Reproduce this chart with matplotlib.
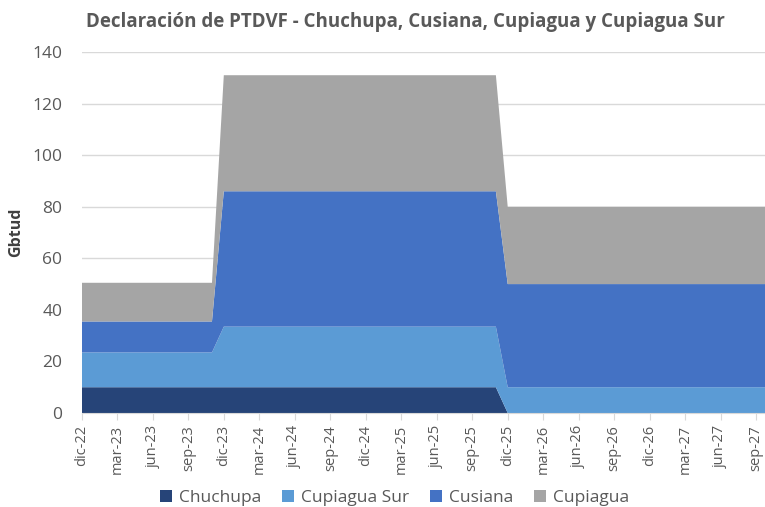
import matplotlib
matplotlib.use('Agg')
import matplotlib.pyplot as plt
from matplotlib.patches import Patch
import numpy as np

plt.rcParams['font.family'] = ['Liberation Sans Narrow', 'Open Sans', 'DejaVu Sans']

# monthly labels from dic-22 to oct-27
meses = ['ene', 'feb', 'mar', 'abr', 'may', 'jun', 'jul', 'ago', 'sep', 'oct', 'nov', 'dic']
labels = []
for k in range(59):
    m = (11 + k) % 12
    a = 22 + (11 + k) // 12
    labels.append('%s-%02d' % (meses[m], a))

# three periods: dic-22..nov-23 (12), dic-23..nov-25 (24), dic-25..oct-27 (23)
n1, n2, n3 = 12, 24, 23
chuchupa = [10] * n1 + [10] * n2 + [0] * n3
cupiagua_sur = [13.5] * n1 + [23.5] * n2 + [10] * n3
cusiana = [12] * n1 + [52.5] * n2 + [40] * n3
cupiagua = [15] * n1 + [45] * n2 + [30] * n3

series = ['Chuchupa', 'Cupiagua Sur', 'Cusiana', 'Cupiagua']
colores = ['#264478', '#5B9BD5', '#4472C4', '#A5A5A5']

fig = plt.figure(figsize=(7.65, 5.07), dpi=100)
ax = fig.add_axes([0.107, 0.1854, 0.893, 0.712])

x = np.arange(len(labels))
ax.stackplot(x, chuchupa, cupiagua_sur, cusiana, cupiagua, colors=colores, linewidth=0)

ax.set_xlim(0, 57.75)
ax.set_ylim(0, 140)
ax.set_yticks(range(0, 141, 20))
ax.tick_params(axis='y', length=0, labelsize=12.5, labelcolor='#595959', pad=14)
ax.set_xticks(x[::3])
ax.set_xticklabels(labels[::3], rotation=90)
ax.tick_params(axis='x', length=5, color='#D9D9D9', labelsize=10.5, labelcolor='#595959')
ax.grid(axis='y', color='#D9D9D9', linewidth=1)
ax.set_axisbelow(True)
for s in ['top', 'right', 'left']:
    ax.spines[s].set_visible(False)
ax.spines['bottom'].set_color('#D9D9D9')

ax.set_ylabel('Gbtud', fontsize=11.5, fontweight='bold', color='#404040', labelpad=6)
fig.text(0.53, 0.957, 'Declaración de PTDVF - Chuchupa, Cusiana, Cupiagua y Cupiagua Sur',
         ha='center', va='center', fontsize=13.5, fontweight='bold', color='#595959')

handles = [Patch(facecolor=c, label=s) for s, c in zip(series, colores)]
fig.legend(handles=handles, loc='center', bbox_to_anchor=(0.516, 0.018), ncol=4, frameon=False,
           fontsize=12.5, labelcolor='#595959', handlelength=0.7, handleheight=0.7,
           handletextpad=0.4, columnspacing=1.2)

fig.savefig('out.png', dpi=100)
